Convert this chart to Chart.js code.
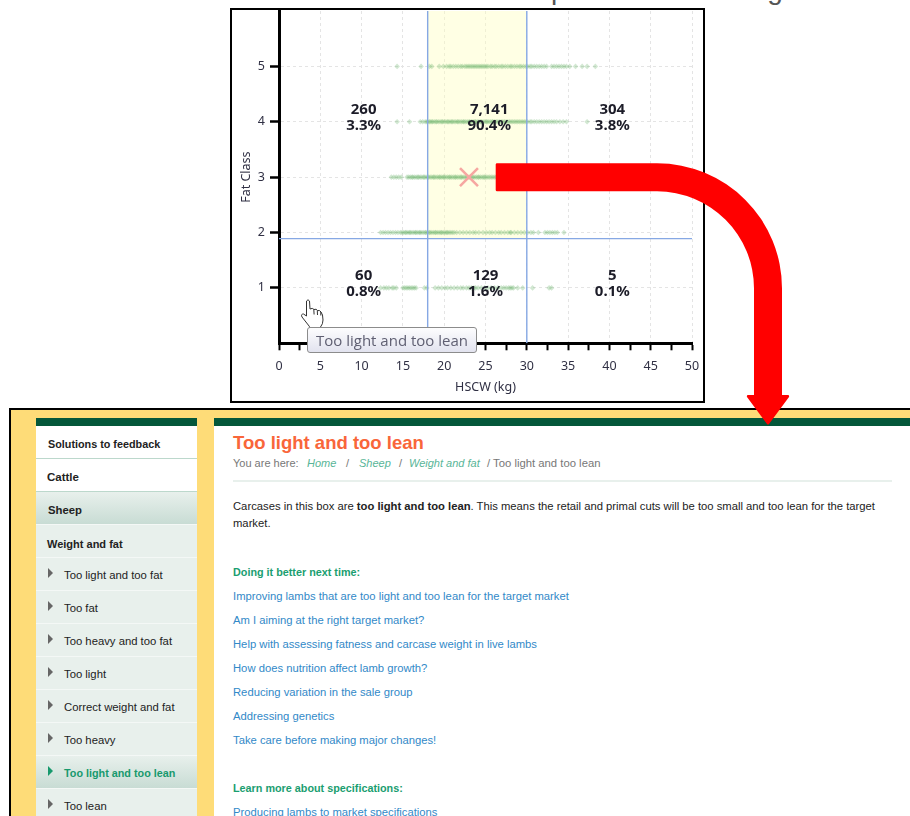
<!DOCTYPE html>
<html>
<head>
<meta charset="utf-8">
<title>Too light and too lean</title>
<script src="https://cdn.jsdelivr.net/npm/chart.js@4/dist/chart.umd.js"></script>
<style>
html, body { margin: 0; padding: 0; background: #fff; }
body { width: 910px; height: 816px; overflow: hidden; position: relative; font-family: "Liberation Sans", Arial, sans-serif; }
div { position: absolute; }
#cut { left: 4px; top: -24px; font-size: 28px; line-height: 24px; letter-spacing: 0.6px; color: #555; white-space: nowrap; transform: translateY(2px); }
#frame { left: 230px; top: 8px; width: 471px; height: 391px; border: 2px solid #000; background: #fff; }
#bar { position: absolute; left: 232px; top: 10px; }
#tip { left: 307px; top: 327px; width: 168px; height: 24px; border: 1px solid #8c8c8c; border-radius: 3px;
	background: linear-gradient(#fdfdfe, #e2e3ef); color: #5f5f72; font: 15px/24px "Open Sans", sans-serif; text-align: center; }
#overlay { position: absolute; left: 0; top: 0; }
#page { left: 9px; top: 408px; width: 901px; height: 408px; border-left: 2px solid #000; border-top: 2px solid #000; background: #fedc78; }
.band { background: #04573a; height: 8px; top: 8px; }
#side { left: 25px; top: 16px; width: 161px; height: 392px; background: #e8f0ec; }
#main { left: 203px; top: 16px; width: 698px; height: 392px; background: #fff; }
.row { left: 0; width: 161px; height: 32px; font-size: 11.3px; line-height: 34px; color: #222; white-space: nowrap; border-bottom: 1px solid #f4f8f6; }
.row b { position: absolute; left: 12px; }
.row span { position: absolute; left: 28px; }
.row i { position: absolute; left: 12px; top: 10px; width: 0; height: 0; border-left: 5px solid #666; border-top: 5px solid transparent; border-bottom: 5px solid transparent; }
.white { background: #fff; border-bottom: 1px solid #bcd8cc; }
.on { background: linear-gradient(#e8f0ec, #c8dcd4); }
.on span { color: #17996d; font-weight: bold; font-size: 10.8px; }
.on i { border-left-color: #17996d; }
.t { position: absolute; white-space: nowrap; font-size: 11.25px; line-height: 16px; color: #222; }
.link { color: #3289c8; }
.head { color: #1a9e70; font-weight: bold; font-size: 10.8px; }
.crumb { color: #777; font-size: 11px; }
.crumb em { color: #58b597; }
</style>
</head>
<body>

<div id="cut">cos and a mail out the mail when an example is shown in figure</div>

<div id="frame"></div>
<canvas id="bar" width="470" height="390"></canvas>

<div id="page">
	<div class="band" style="left:25px;width:161px;"></div>
	<div class="band" style="left:203px;width:698px;"></div>
	<div id="side" style="top:16px;">
		<div class="row white" style="top:0;line-height:36px;"><b style="font-size:10.8px;">Solutions to feedback</b></div>
		<div class="row white" style="top:33px;line-height:37px;"><b style="left:11px;font-size:11.5px;">Cattle</b></div>
		<div class="row on" style="top:66px;line-height:36px;"><b style="font-size:11.3px;">Sheep</b></div>
		<div class="row" style="top:99px;line-height:38px;"><b style="left:11px;font-size:11px;">Weight and fat</b></div>
		<div class="row" style="top:132px;"><i></i><span>Too light and too fat</span></div>
		<div class="row" style="top:165px;"><i></i><span>Too fat</span></div>
		<div class="row" style="top:198px;"><i></i><span>Too heavy and too fat</span></div>
		<div class="row" style="top:231px;"><i></i><span>Too light</span></div>
		<div class="row" style="top:264px;"><i></i><span>Correct weight and fat</span></div>
		<div class="row" style="top:297px;"><i></i><span>Too heavy</span></div>
		<div class="row on" style="top:330px;"><i></i><span>Too light and too lean</span></div>
		<div class="row" style="top:363px;"><i></i><span>Too lean</span></div>
	</div>
	<div id="main">
		<span class="t" style="left:19px;top:5px;font-size:18.5px;line-height:24px;font-weight:bold;color:#f9663a;">Too light and too lean</span>
		<span class="t crumb" style="left:19px;top:29px;">You are here:</span>
		<span class="t crumb" style="left:93px;top:29px;"><em>Home</em></span>
		<span class="t crumb" style="left:132px;top:29px;">/</span>
		<span class="t crumb" style="left:145px;top:29px;"><em>Sheep</em></span>
		<span class="t crumb" style="left:185px;top:29px;">/</span>
		<span class="t crumb" style="left:195px;top:29px;"><em>Weight and fat</em></span>
		<span class="t crumb" style="left:273px;top:29px;font-size:11.3px;">/ Too light and too lean</span>
		<div style="left:19px;top:54px;width:659px;height:2px;background:#e8f0ec;"></div>
		<span class="t" style="left:19px;top:72px;">Carcases in this box are <b>too light and too lean</b>. This means the retail and primal cuts will be too small and too lean for the target</span>
		<span class="t" style="left:19px;top:89px;">market.</span>
		<span class="t head" style="left:19px;top:138px;">Doing it better next time:</span>
		<span class="t link" style="left:19px;top:162px;">Improving lambs that are too light and too lean for the target market</span>
		<span class="t link" style="left:19px;top:186px;">Am I aiming at the right target market?</span>
		<span class="t link" style="left:19px;top:210px;">Help with assessing fatness and carcase weight in live lambs</span>
		<span class="t link" style="left:19px;top:234px;">How does nutrition affect lamb growth?</span>
		<span class="t link" style="left:19px;top:258px;">Reducing variation in the sale group</span>
		<span class="t link" style="left:19px;top:282px;">Addressing genetics</span>
		<span class="t link" style="left:19px;top:306px;">Take care before making major changes!</span>
		<span class="t head" style="left:19px;top:354px;">Learn more about specifications:</span>
		<span class="t link" style="left:19px;top:378px;">Producing lambs to market specifications</span>
	</div>
</div>

<svg id="overlay" width="910" height="816">
	<!-- pointer hand -->
	<path d="M306.500 301 q1.500 -2.500 3 0 l0.500 8 q2.500 -1.500 4 0.500 q2.500 -1 3.500 1 q2.500 -0.500 3.500 1.500 q2 2 2 8 q0 4 -2.500 7 l-1 2 l-9 0 q-1 -3 -3 -5 l-5.500 -7 q-1.500 -3 1.500 -3 l3 2 z M313.800 309.500 l0.300 5 M317.300 310.500 l0.200 4.500 M320.800 312 l0 3.500" fill="#fff" stroke="#333" stroke-width="1"/>
	<!-- red arrow down to the web page -->
	<path d="M497 163.300 L657 163.300 A125 125 0 0 1 782 288.300 L782 395 L788.500 395 Q789.500 396 789 397 L769 424 Q768 425 767 424 L747 397 Q746.500 396 747.500 395 L754 395 L754 288.300 A97 97 0 0 0 657 191.300 L497 191.300 Q495.700 191.300 495.700 190 L495.700 164.600 Q495.700 163.300 497 163.300 Z" fill="#ff0000"/>
</svg>

<div id="tip">Too light and too lean</div>

<script>
// HSCW (kg) of each carcase per fat class
var fatClass5 = [14.3, 17.2, 18.2, 18.5, 19.4, 19.9, 20.3, 20.6, 20.8, 21.1, 21.4, 21.7, 22, 22.2, 22.5, 22.7, 22.9, 23.1, 23.3, 23.5, 23.7, 23.9, 24.1, 24.3, 24.5, 24.7, 24.9, 25.1, 25.3, 25.6, 25.8, 26.1, 26.3, 26.6, 26.9, 27.1, 27.4, 27.7, 28, 28.2, 28.5, 28.8, 29.1, 29.3, 29.6, 29.9, 30.1, 30.4, 30.6, 30.9, 31.2, 31.5, 31.8, 32.1, 32.4, 33, 33.3, 33.6, 33.9, 34.2, 34.5, 34.8, 35.2, 35.9, 36.7, 37.3, 38.3];
var fatClass4 = [14.3, 15.8, 17.1, 17.4, 17.7, 17.9, 18, 18.2, 18.3, 18.5, 18.6, 18.8, 19, 19.1, 19.3, 19.5, 19.7, 19.8, 20, 20.2, 20.4, 20.5, 20.7, 20.9, 21, 21.2, 21.4, 21.6, 21.7, 21.9, 22.1, 22.3, 22.4, 22.6, 22.8, 23, 23.1, 23.3, 23.5, 23.7, 23.8, 24, 24.2, 24.4, 24.5, 24.7, 24.9, 25.1, 25.2, 25.4, 25.6, 25.8, 25.9, 26.1, 26.3, 26.5, 26.7, 26.9, 27.1, 27.3, 27.5, 27.7, 27.9, 28.1, 28.3, 28.5, 28.7, 28.9, 29.1, 29.3, 29.5, 29.7, 29.9, 30.1, 30.4, 30.6, 30.9, 31.2, 31.5, 31.8, 32.1, 32.4, 32.7, 33, 33.3, 33.6, 34, 34.4, 34.8, 37.3];
var fatClass3 = [13.6, 13.9, 14.2, 14.5, 14.8, 15.5, 15.7, 15.9, 16.1, 16.2, 16.4, 16.6, 16.8, 16.9, 17.1, 17.3, 17.5, 17.6, 17.8, 18, 18.1, 18.3, 18.5, 18.7, 18.8, 19, 19.2, 19.4, 19.5, 19.7, 19.9, 20, 20.2, 20.4, 20.6, 20.7, 20.9, 21.1, 21.3, 21.4, 21.6, 21.8, 22, 22.1, 22.3, 22.5, 22.7, 22.8, 23, 23.2, 23.4, 23.5, 23.7, 23.9, 24.1, 24.2, 24.4, 24.6, 24.8, 24.9, 25.1, 25.3, 25.5, 25.7, 25.9, 26.1, 26.3, 26.6, 26.9, 27.2, 27.6, 28, 28.5];
var fatClass2 = [12.3, 12.6, 12.9, 13.2, 13.5, 13.8, 14.1, 14.4, 14.7, 14.9, 15.1, 15.3, 15.4, 15.6, 15.8, 15.9, 16.1, 16.3, 16.5, 16.6, 16.8, 17, 17.1, 17.3, 17.5, 17.7, 17.8, 18, 18.2, 18.3, 18.5, 18.7, 18.9, 19, 19.2, 19.4, 19.6, 19.7, 19.9, 20.1, 20.3, 20.4, 20.6, 20.8, 21, 21.2, 21.5, 21.9, 22.3, 22.7, 23.1, 23.5, 23.8, 24.2, 24.7, 25.1, 25.5, 25.8, 26.2, 26.6, 26.9, 27.3, 27.7, 28, 28.1, 28.5, 28.9, 29.3, 29.7, 30.1, 30.5, 30.8, 31.4, 32.2, 32.5, 32.8, 33.1, 33.4, 33.7, 34.5];
var fatClass1 = [12.3, 12.7, 13, 13.3, 13.7, 13.9, 14.2, 15, 15.2, 15.4, 15.6, 15.8, 16, 16.2, 16.4, 16.6, 17.6, 17.9, 18.9, 19.3, 19.7, 20.1, 20.4, 20.8, 21.2, 21.6, 22, 22.3, 22.7, 23, 23.3, 23.6, 23.8, 24.1, 24.5, 24.9, 25.3, 25.7, 26.1, 26.5, 26.9, 27.2, 27.5, 27.8, 28, 28.2, 28.4, 28.9, 29.5, 30.7, 32.7, 33];
var fatClasses = [5, 4, 3, 2, 1];
var fatClassPoints = [fatClass5, fatClass4, fatClass3, fatClass2, fatClass1];

// the target box and the example carcase
var weightMin = 18;
var weightMax = 30;
var fatMin = 1.89;
var exampleCarcase = [23, 3];

// tallies per region of the plot
var tallyX = [10.25, 25.45, 40.35, 10.25, 25, 40.35];
var tallyY = [4, 4, 4, 1, 1, 1];
var tallyCounts = ['260', '7,141', '304', '60', '129', '5'];
var tallyPercents = ['3.3%', '90.4%', '3.8%', '0.8%', '1.6%', '0.1%'];

var inkColor = '#303044';
var gridColor = '#e4e4e4';
var lineColor = '#86a8e4';

var datasets = [];

fatClasses.forEach(function(fc, i) {
	datasets.push({
		data: fatClassPoints[i].map(function(w) { return {x: w, y: fc}; }),
		pointStyle: 'rectRot',
		pointRadius: 2.8,
		pointBorderWidth: 0,
		pointBackgroundColor: 'rgba(105,180,105,0.3)',
		order: 4
	});
});

function lineSet(points, order) {
	return {
		data: points,
		showLine: true,
		borderColor: lineColor,
		borderWidth: 1.4,
		pointRadius: 0,
		order: order
	};
}

datasets.push(lineSet([{x: weightMin, y: 0}, {x: weightMin, y: 6}], 3));
datasets.push(lineSet([{x: weightMax, y: 0}, {x: weightMax, y: 6}], 3));
datasets.push(lineSet([{x: 0, y: fatMin}, {x: 50, y: fatMin}], 3));

// yellow box, filled down to the fat line
datasets.push({
	data: [{x: weightMin, y: 6}, {x: weightMax, y: 6}],
	showLine: true,
	borderWidth: 0,
	pointRadius: 0,
	fill: {value: fatMin},
	backgroundColor: 'rgba(255,255,190,0.42)',
	order: 9
});

datasets.push({
	data: [{x: exampleCarcase[0], y: exampleCarcase[1]}],
	pointStyle: 'crossRot',
	pointRadius: 12.7,
	pointBorderWidth: 2.6,
	pointBorderColor: '#f6a7a1',
	order: 1
});

var tallyPlugin = {
	id: 'tallies',
	afterDatasetsDraw: function(chart) {
		var ctx = chart.ctx;
		ctx.save();
		ctx.font = 'bold 15px "Noto Sans"';
		ctx.fillStyle = '#1c1c28';
		ctx.textAlign = 'center';
		ctx.textBaseline = 'middle';
		tallyCounts.forEach(function(c, i) {
			var px = chart.scales.x.getPixelForValue(tallyX[i]);
			var py = chart.scales.y.getPixelForValue(tallyY[i]);
			ctx.fillText(c, px, py - 12);
			ctx.fillText(tallyPercents[i], px, py + 4);
		});
		ctx.restore();
	}
};

var tickFont = {family: '"Noto Sans"', size: 12.5};

var barGraph = new Chart(document.getElementById('bar'), {
	type: 'scatter',
	data: {datasets: datasets},
	plugins: [tallyPlugin],
	options: {
		responsive: false,
		animation: false,
		events: [],
		layout: {autoPadding: false, padding: {left: 0, right: 10, top: 1, bottom: 0}},
		plugins: {legend: {display: false}, tooltip: {enabled: false}},
		scales: {
			x: {
				type: 'linear',
				min: 0,
				max: 50,
				afterFit: function(s) { s.height = 56.7; s.paddingLeft = 0; s.paddingRight = 0; },
				ticks: {
					stepSize: 2.5,
					autoSkip: false,
					maxRotation: 0,
					padding: 9,
					color: inkColor,
					font: tickFont,
					callback: function(v) { return v % 5 === 0 ? String(v) : ''; }
				},
				grid: {
					color: function(c) { return c.tick && c.tick.value % 5 === 0 ? gridColor : 'transparent'; },
					tickColor: '#000',
					tickLength: 7,
					tickWidth: 2,
					lineWidth: 1
				},
				border: {color: '#000', width: 3, dash: [3, 3]},
				title: {display: true, text: 'HSCW (kg)', color: inkColor, font: tickFont, padding: {top: 2, bottom: 5}}
			},
			y: {
				type: 'linear',
				min: 0,
				max: 6,
				afterFit: function(s) { s.width = 47; s.paddingTop = 0; s.paddingBottom = 0; },
				ticks: {
					stepSize: 1,
					padding: 5,
					color: inkColor,
					font: tickFont,
					callback: function(v) { return v === 0 || v === 6 ? '' : String(v); }
				},
				grid: {
					color: function(c) { return c.tick && c.tick.value > 0 && c.tick.value < 6 ? gridColor : 'transparent'; },
					tickColor: function(c) { return c.tick && c.tick.value > 0 && c.tick.value < 6 ? '#000' : 'transparent'; },
					tickLength: 9,
					tickWidth: 2.5,
					lineWidth: 1
				},
				border: {color: '#000', width: 3, dash: [3, 3]},
				title: {display: true, text: 'Fat Class', color: inkColor, font: tickFont, padding: {top: 7, bottom: 2}}
			}
		}
	}
});
</script>
</body>
</html>
